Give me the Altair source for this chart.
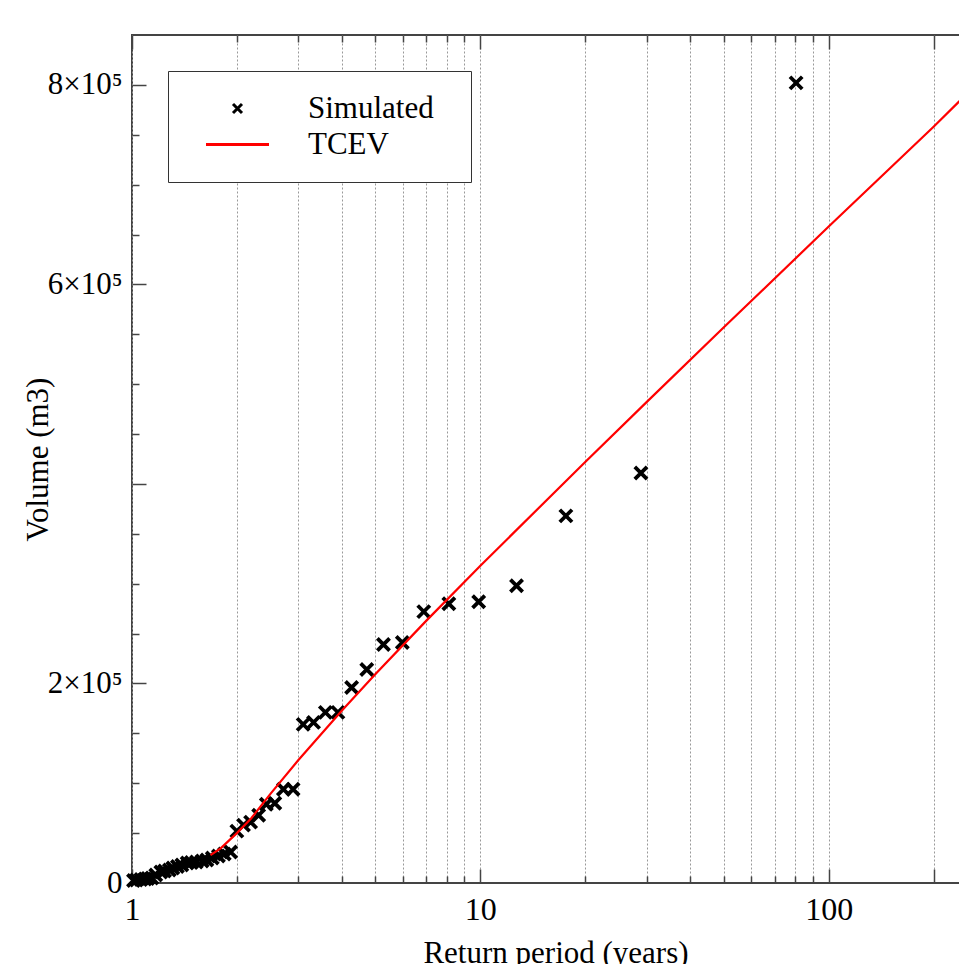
import altair as alt
import pandas as pd

# ---- data ----
sim_T = [80.6, 28.9, 17.6, 12.7, 9.89, 8.12, 6.88, 5.97, 5.27, 4.72, 4.27, 3.90, 3.59, 3.32,
         3.10, 2.90, 2.72, 2.57, 2.43, 2.31, 2.19, 2.09, 2.00, 1.92, 1.84, 1.77, 1.70, 1.64,
         1.59, 1.53, 1.48, 1.44, 1.39, 1.35, 1.31, 1.28, 1.24, 1.21, 1.17, 1.14, 1.11, 1.09,
         1.06, 1.03, 1.01]
sim_V = [802000, 411000, 368000, 298000, 282000, 280000, 272000, 241000, 239000, 214000,
         196000, 171000, 171000, 161000, 159000, 94000, 94000, 80000, 79000, 68000, 61000,
         58000, 52000, 31000, 29000, 27000, 25000, 23000, 22000, 21000, 20500, 20000, 18000,
         16500, 15000, 13000, 12000, 11000, 8000, 5000, 4500, 4000, 3500, 3000, 2500]

tcev_T = [1.68, 1.8, 2.0, 2.2, 2.5, 3, 4, 5, 7, 10, 20, 30, 50, 100, 200, 270]
tcev_V = [28000, 35000, 50000, 65000, 89600, 123000, 172700, 209400, 263000, 318000,
          422000, 482000, 557000, 658000, 758000, 803000]

series_names = ["Simulated", "TCEV"]
x_tick_values = [1, 2, 3, 4, 5, 6, 7, 8, 9, 10, 20, 30, 40, 50, 60, 70, 80, 90, 100, 200]
y_tick_values = [0, 50000, 100000, 150000, 200000, 250000, 300000, 350000, 400000, 450000,
                 500000, 550000, 600000, 650000, 700000, 750000, 800000]
y_label_values = [0, 200000, 600000, 800000]

sim_df = pd.DataFrame({"T": sim_T, "V": sim_V, "series": "Simulated"})
tcev_df = pd.DataFrame({"T": tcev_T, "V": tcev_V, "series": "TCEV"})

W, H = 847, 848
FONT = "Liberation Serif"
XPATH = "M-1,-1L1,1M1,-1L-1,1"
LPATH = "M-7,0L7,0"

xscale = alt.Scale(type="log", domain=[1, 270], nice=False)
yscale = alt.Scale(domain=[0, 850000], nice=False, zero=False)
cscale = alt.Scale(domain=series_names, range=["black", "red"])
sscale = alt.Scale(domain=series_names, range=[XPATH, LPATH])

# the (white, invisible) legend title sits to the right of the labels and only widens the box
legend = alt.Legend(
    title=".", titleOrient="right", titleColor="white", titleFontSize=8, titlePadding=12,
    orient="none", legendX=36, legendY=36,
    padding=22, rowPadding=4, symbolOffset=32, labelOffset=55,
    labelFont=FONT, labelFontSize=31, labelColor="black",
    strokeColor="#333", fillColor="white",
    symbolSize=81, symbolStrokeWidth=3,
)

xtick_size = {"condition": {"test": "indexof([1,10,100,200], datum.value) >= 0", "value": 14}, "value": 7}
ytick_size = {"condition": {"test": "datum.value % 200000 == 0", "value": 14}, "value": 7}

def tick_axis_x(orient):
    return alt.Axis(orient=orient, offset=-H, values=x_tick_values, labels=False, domain=False,
                    grid=False, ticks=True, tickSize=xtick_size, tickColor="#444", tickWidth=1.5,
                    title=None)

def tick_axis_y(orient):
    return alt.Axis(orient=orient, offset=-W, values=y_tick_values, labels=False, domain=False,
                    grid=False, ticks=True, tickSize=ytick_size, tickColor="#444", tickWidth=1.5,
                    title=None)

points = alt.Chart(sim_df).mark_point(filled=False, size=150, strokeWidth=3.8, opacity=1).encode(
    x=alt.X("T:Q", scale=xscale, axis=alt.Axis(
        orient="bottom", values=x_tick_values,
        labelExpr="indexof([1,10,100], datum.value) >= 0 ? '' + datum.value : ''",
        ticks=False, tickSize=0, domain=False, grid=True, gridColor="#999", gridDash=[2, 2],
        gridWidth=1, labelOverlap=False, labelFlush=False, labelPadding=11,
        labelFont=FONT, labelFontSize=32, labelColor="black",
        title="Return period (years)", titleFont=FONT, titleFontSize=31, titleFontWeight="normal",
        titleColor="black", titleBaseline="top", titleY=55)),
    y=alt.Y("V:Q", scale=yscale, axis=alt.Axis(
        orient="left", values=y_label_values,
        labelExpr="datum.value == 0 ? '0' : format(datum.value / 100000, 'd') + '\u00d710\u2075'",
        ticks=False, tickSize=0, domain=False, grid=False, labelPadding=10,
        labelFont=FONT, labelFontSize=31, labelColor="black",
        title="Volume (m3)", titleFont=FONT, titleFontSize=31, titleFontWeight="normal",
        titleColor="black", titleX=-94, titleBaseline="middle")),
    color=alt.Color("series:N", scale=cscale, legend=legend),
    shape=alt.Shape("series:N", scale=sscale, legend=legend),
)

line = alt.Chart(tcev_df).mark_line(strokeWidth=2.2).encode(
    x=alt.X("T:Q", scale=xscale, axis=tick_axis_x("top")),
    y=alt.Y("V:Q", scale=yscale, axis=tick_axis_y("right")),
    color=alt.Color("series:N", scale=cscale, legend=legend),
)

ghost = alt.Chart(tcev_df).mark_line(opacity=0).encode(
    x=alt.X("T:Q", scale=xscale, axis=tick_axis_x("bottom")),
    y=alt.Y("V:Q", scale=yscale, axis=tick_axis_y("left")),
)

chart = alt.layer(points, line, ghost).resolve_scale(
    x="shared", y="shared"
).resolve_axis(
    x="independent", y="independent"
).properties(
    width=W, height=H,
    autosize=alt.AutoSizeParams(type="none"),
    padding={"left": 124, "top": 27, "right": -20, "bottom": 81},
    background="white",
).configure_view(stroke="#444", strokeWidth=2)

chart.save("out.html", embed_options={"renderer": "svg", "actions": False})
